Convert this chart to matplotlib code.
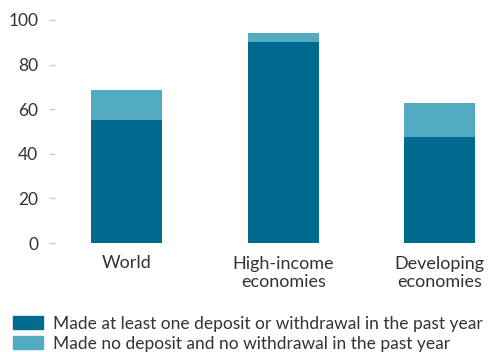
import matplotlib
matplotlib.use('Agg')
import matplotlib.pyplot as plt
from matplotlib.patches import Patch

plt.rcParams['font.family'] = ['Lato', 'DejaVu Sans']

# data
categories = ['World', 'High-income\neconomies', 'Developing\neconomies']
active = [55, 90, 47.5]
inactive = [13.5, 4, 15.5]
series_labels = ['Made at least one deposit or withdrawal in the past year',
                 'Made no deposit and no withdrawal in the past year']
colors = ['#006b8f', '#52abc1']
text_color = '#333333'

fig = plt.figure(figsize=(4.88, 3.52), dpi=100)
ax = fig.add_axes([55 / 488, 1 - 243 / 352, 433 / 488, 223 / 352])

x = range(len(categories))
ax.bar(x, active, width=0.455, color=colors[0])
ax.bar(x, inactive, width=0.455, bottom=active, color=colors[1])

ax.set_ylim(0, 100)
ax.set_xlim(-0.46, 2.31)
ax.set_yticks([0, 20, 40, 60, 80, 100])
ax.set_xticks(list(x))
ax.set_xticklabels(categories, linespacing=1.2)

for s in ax.spines.values():
    s.set_visible(False)
ax.tick_params(axis='y', length=4, width=1, color='#cccccc', pad=8,
               labelsize=12.5, labelcolor=text_color)
ax.tick_params(axis='x', length=0, pad=9, labelsize=13, labelcolor=text_color)

handles = [Patch(color=c) for c in colors]
fig.legend(handles, series_labels, loc='lower left',
           bbox_to_anchor=(10 / 488, -3 / 352),
           frameon=False, fontsize=12.5, handlelength=1.72, handleheight=0.75,
           handletextpad=0.57, labelspacing=0.22, borderaxespad=0, borderpad=0.2,
           labelcolor=text_color)

fig.savefig('out.png', dpi=100)
